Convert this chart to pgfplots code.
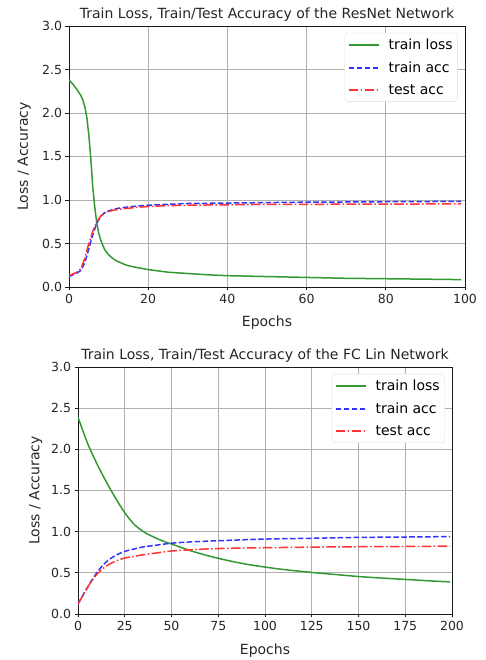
\documentclass[border=0pt]{standalone}
\usepackage{fontspec}
\setmainfont{DejaVu Sans}
\usepackage{pgfplots}
\pgfplotsset{compat=1.18}
\definecolor{mplgreen}{HTML}{339933}
\definecolor{mplblue}{HTML}{3333FF}
\definecolor{mplred}{HTML}{FF3333}
\definecolor{mplgrid}{HTML}{B0B0B0}
\pgfplotsset{
  mplstyle/.style={
    scale only axis,
    axis line style={black!90,line width=0.8pt},
    grid=major,
    major grid style={mplgrid,line width=0.8pt},
    tick align=outside,
    major tick length=3.5pt,
    tick style={black!90,line width=0.8pt},
    xtick pos=bottom, ytick pos=left,
    ymin=0, ymax=3,
    ytick={0,0.5,1,1.5,2,2.5,3},
    yticklabel style={/pgf/number format/.cd,fixed,fixed zerofill,precision=1},
    /pgf/number format/assume math mode=true,
    ticklabel style={font=\fontsize{12.5}{14}\selectfont, text=black!85},
    xlabel style={font=\fontsize{14}{16}\selectfont, text=black!85,
      at={(axis description cs:0.5,0)}, anchor=base, yshift=-40pt},
    ylabel style={font=\fontsize{14}{16}\selectfont, text=black!85,
      at={(axis description cs:-0.113,0.5)}, anchor=center},
    every axis title shift=0pt,
    title style={font=\fontsize{14}{16}\selectfont, text=black!85,
      at={(0.5,1)}, anchor=base, yshift=7pt},
    xlabel={Epochs}, ylabel={Loss / Accuracy},
    legend style={anchor=north east, draw=black!13, rounded corners=3pt,
      fill=white,
      font=\fontsize{14}{16}\selectfont,
      inner xsep=3pt, inner ysep=4pt, row sep=6.5pt, column sep=7pt,
      nodes={inner sep=2pt}},
    legend cell align=left,
    legend image code/.code={\draw[mark repeat=2,mark phase=2,##1,line width=1.8pt] plot coordinates {(0pt,0pt) (15pt,0pt) (30pt,0pt)};},
  },
  loss/.style={color=mplgreen, solid, line width=1.5pt},
  tracc/.style={color=mplblue, line width=1.5pt, dash pattern=on 5.55pt off 2.4pt},
  teacc/.style={color=mplred, line width=1.5pt, dash pattern=on 9.6pt off 2.4pt on 1.5pt off 2.4pt},
}
\begin{document}
\begin{tikzpicture}[x=1pt,y=1pt]
\useasboundingbox (0,0) rectangle (485,660);
\begin{axis}[mplstyle,
  at={(69pt,373pt)}, anchor=south west, width=396pt, height=261pt,
  xmin=0, xmax=100, xtick={0,20,40,60,80,100},
  legend style={at={(0.982,0.974)}},
  title={Train Loss, Train/Test Accuracy of the ResNet Network}]
\addplot[loss] coordinates {
(0,2.38)(1,2.33)(2,2.27)(3,2.20)(3.5,2.15)(4,2.07)(4.5,1.95)(5,1.75)(5.5,1.48)(6,1.15)(6.5,0.92)(7,0.74)(7.5,0.62)(8,0.54)(9,0.43)
(10,0.37)(11,0.33)(12,0.30)(13,0.28)(14,0.26)(15,0.245)(17,0.225)(20,0.20)(25,0.17)
(30,0.155)(35,0.14)(40,0.13)(50,0.12)(60,0.11)(70,0.10)(80,0.095)(90,0.09)(99,0.085)};
\addlegendentry{train loss}
\addplot[tracc] coordinates {
(0,0.12)(1,0.14)(2,0.16)(3,0.19)(4,0.28)(5,0.44)(6,0.60)(7,0.73)(8,0.81)(9,0.855)
(10,0.875)(11,0.89)(12,0.90)(13,0.91)(14,0.915)(15,0.92)(17,0.93)(20,0.94)(25,0.95)
(30,0.96)(40,0.965)(50,0.97)(60,0.975)(70,0.977)(80,0.98)(90,0.982)(99,0.985)};
\addlegendentry{train acc}
\addplot[teacc] coordinates {
(0,0.13)(1,0.15)(2,0.17)(3,0.21)(4,0.33)(5,0.50)(6,0.64)(7,0.75)(8,0.815)(9,0.85)
(10,0.865)(11,0.88)(12,0.89)(13,0.895)(14,0.90)(15,0.905)(17,0.915)(20,0.925)(25,0.935)
(30,0.94)(40,0.945)(50,0.95)(60,0.95)(70,0.952)(80,0.953)(90,0.954)(99,0.955)};
\addlegendentry{test acc}
\end{axis}
\begin{axis}[mplstyle,
  at={(78pt,46pt)}, anchor=south west, width=374pt, height=247pt,
  xmin=0, xmax=200, xtick={0,25,50,75,100,125,150,175,200},
  legend style={at={(0.981,0.972)}},
  title={Train Loss, Train/Test Accuracy of the FC Lin Network}]
\addplot[loss, smooth] coordinates {
(0,2.39)(5,2.08)(10,1.83)(15,1.61)(20,1.41)(25,1.23)(30,1.09)
(35,1.00)(40,0.94)(45,0.89)(50,0.85)(60,0.77)(70,0.705)(80,0.65)(90,0.605)
(100,0.57)(110,0.54)(125,0.505)(140,0.475)(150,0.455)(160,0.44)(175,0.42)(190,0.40)(199,0.39)};
\addlegendentry{train loss}
\addplot[tracc, smooth] coordinates {
(0,0.12)(5,0.32)(10,0.50)(15,0.63)(20,0.71)(25,0.76)
(30,0.79)(35,0.815)(40,0.83)(50,0.86)(60,0.875)(75,0.89)(100,0.91)(125,0.92)(150,0.93)
(175,0.935)(199,0.94)};
\addlegendentry{train acc}
\addplot[teacc, smooth] coordinates {
(0,0.12)(5,0.32)(10,0.48)(15,0.58)(20,0.64)(25,0.68)
(30,0.70)(35,0.72)(40,0.735)(50,0.765)(60,0.78)(75,0.795)(100,0.805)(125,0.812)
(150,0.817)(175,0.82)(199,0.825)};
\addlegendentry{test acc}
\end{axis}
\end{tikzpicture}
\end{document}
